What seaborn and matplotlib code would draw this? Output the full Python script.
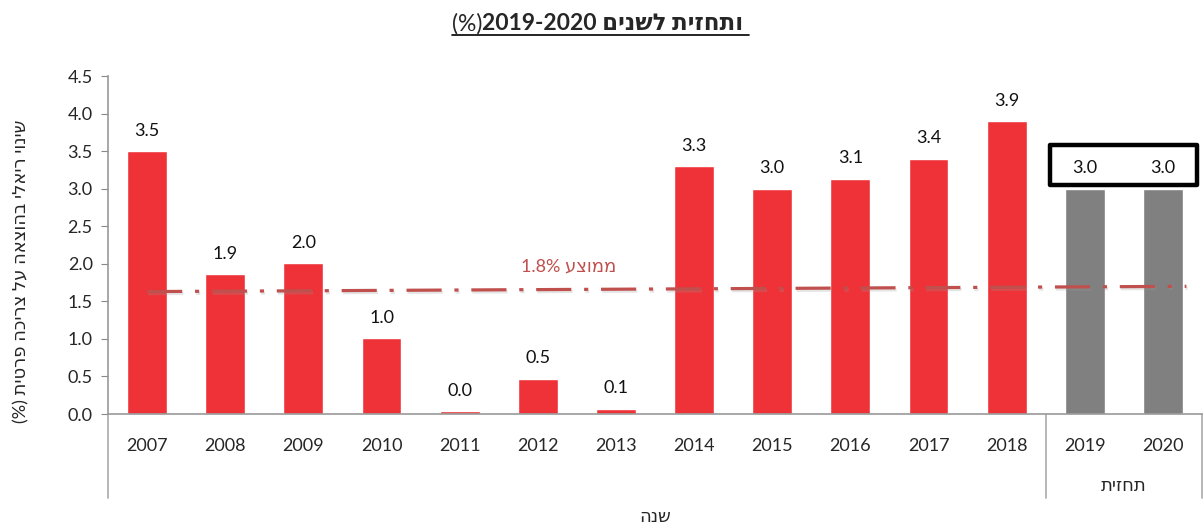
import numpy as np
import pandas as pd
import matplotlib.pyplot as plt
import seaborn as sns
from matplotlib import patheffects as pe
from matplotlib.patches import Rectangle
from matplotlib.lines import Line2D

# data
years = ['2007', '2008', '2009', '2010', '2011', '2012', '2013',
         '2014', '2015', '2016', '2017', '2018', '2019', '2020']
values = [3.50, 1.86, 2.01, 1.01, 0.04, 0.47, 0.07,
          3.30, 3.00, 3.13, 3.40, 3.90, 3.00, 3.00]
kind = ['actual'] * 12 + ['forecast'] * 2
avg_x = [0, 13.3]
avg_y = [1.63, 1.70]

# hebrew strings written in visual (left-to-right) order
title_bold = '2019-2020 םינשל תיזחתו '
title_plain = '(%)'
ylabel = '(%) תיטרפ הכירצ לע האצוהב ילאיר יוניש'
xlabel = 'הנש'
group_label = 'תיזחת'
avg_label = '1.8% עצוממ'

df = pd.DataFrame({'year': years, 'value': values, 'kind': kind})

sns.set_style('white')
plt.rcParams['font.family'] = ['Lato', 'DejaVu Sans']

fig = plt.figure(figsize=(12.03, 5.26), dpi=100)
ax = fig.add_axes([0.0898, 0.2129, 0.9094, 0.6426])

sns.barplot(data=df, x='year', y='value', hue='kind',
            palette={'actual': '#EE3237', 'forecast': '#808080'},
            saturation=1, dodge=False, width=0.51, legend=False, ax=ax)

for c in ax.containers:
    ax.bar_label(c, fmt='%.1f', padding=9, fontsize=13, color='#111111')

# average line with a soft shadow
ax.plot(avg_x, avg_y, color='#C0504D', lw=2.3, linestyle=(0, (11, 4, 1.3, 4)),
        path_effects=[pe.SimpleLineShadow(offset=(0.8, -1.5), shadow_color='#999999', alpha=0.25),
                      pe.Normal()])
ax.text(5.4, 1.97, avg_label, color='#C0504D', fontsize=13,
        ha='center', va='center')

ax.set_xlim(-0.5, 13.5)
ax.set_ylim(0, 4.5)
ax.set_yticks(np.arange(0, 4.51, 0.5))
ax.set_yticklabels(['%.1f' % v for v in np.arange(0, 4.51, 0.5)], fontsize=13)
ax.tick_params(axis='x', length=0, labelsize=13, pad=17)
ax.tick_params(axis='y', length=5, color='#888888', direction='out', left=True, pad=6)

for s in ['top', 'right']:
    ax.spines[s].set_visible(False)
for s in ['left', 'bottom']:
    ax.spines[s].set_color('#999999')
    ax.spines[s].set_linewidth(1.2)

ax.set_xlabel('')
ax.set_ylabel(ylabel, fontsize=13)
ax.yaxis.set_label_coords(-0.072, 0.423)

# category separators below axis
trans = ax.get_xaxis_transform()
for xs in [-0.5, 11.5, 13.5]:
    ax.add_line(Line2D([xs, xs], [0, -0.249], transform=trans, color='#AAAAAA',
                       lw=1.2, clip_on=False))
ax.text(12.5, -0.214, group_label, transform=trans, ha='center', va='center', fontsize=13)
ax.text(6.5, -0.305, xlabel, transform=trans, ha='center', va='center', fontsize=13)

# box around the forecast labels
ax.add_patch(Rectangle((11.55, 3.05), 1.89, 0.53, fill=False, edgecolor='black',
                       lw=3.2, joinstyle='round', clip_on=False, zorder=5))

# title with underline
tb = fig.text(0.401, 0.955, title_bold, fontsize=16.5, fontweight='bold',
              ha='left', va='center')
tp = fig.text(0.401, 0.955, title_plain, fontsize=16.5, ha='right', va='center')
fig.canvas.draw()
r = fig.canvas.get_renderer()
b1 = tb.get_window_extent(r)
b2 = tp.get_window_extent(r)
x0 = b2.x0 / fig.bbox.width
x1 = b1.x1 / fig.bbox.width
yl = (b1.y0 - 1) / fig.bbox.height
fig.add_artist(Line2D([x0, x1], [yl, yl], color='black', lw=1.2))

fig.savefig('out.png', dpi=100)
